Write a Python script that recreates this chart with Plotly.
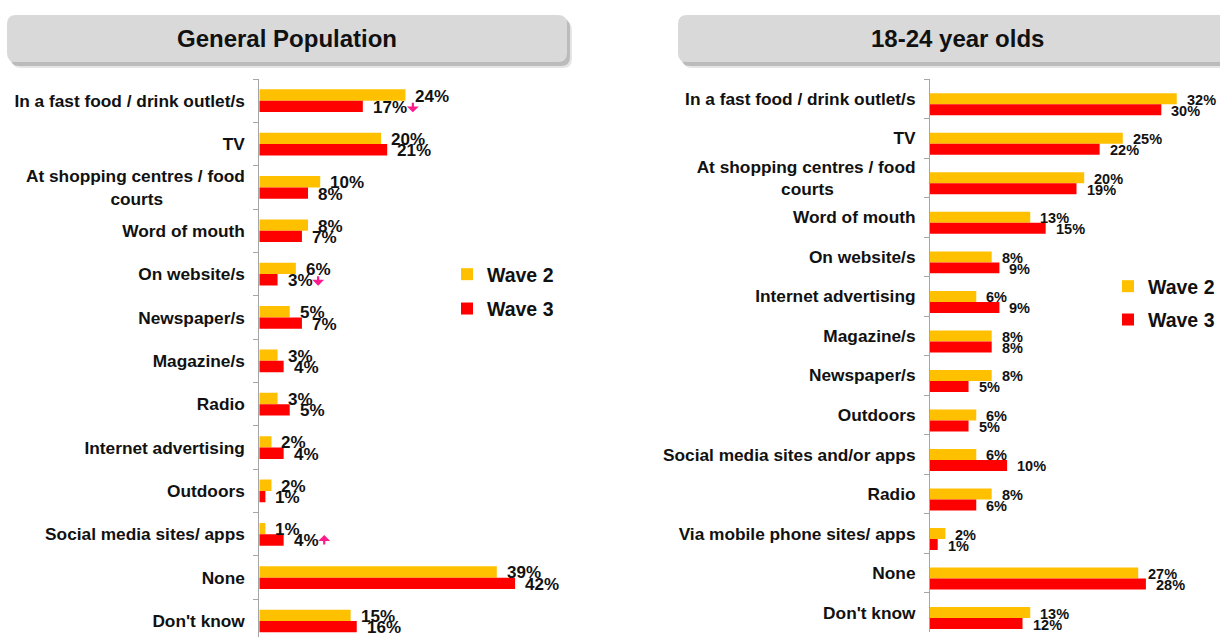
import plotly.graph_objects as go

# ---------------- data ----------------
series_names = ["Wave 2", "Wave 3"]
panel_titles = ["General Population", "18-24 year olds"]

gp_categories = [
    "In a fast food / drink outlet/s", "TV", "At shopping centres / food courts",
    "Word of mouth", "On website/s", "Newspaper/s", "Magazine/s", "Radio",
    "Internet advertising", "Outdoors", "Social media sites/ apps", "None", "Don't know",
]
gp_wave2 = [24, 20, 10, 8, 6, 5, 3, 3, 2, 2, 1, 39, 15]
gp_wave3 = [17, 21, 8, 7, 3, 7, 4, 5, 4, 1, 4, 42, 16]
gp_sig_wave3 = ["down", "", "", "", "down", "", "", "", "", "", "up", "", ""]

yo_categories = [
    "In a fast food / drink outlet/s", "TV", "At shopping centres / food courts",
    "Word of mouth", "On website/s", "Internet advertising", "Magazine/s",
    "Newspaper/s", "Outdoors", "Social media sites and/or apps", "Radio",
    "Via mobile phone sites/ apps", "None", "Don't know",
]
yo_wave2 = [32, 25, 20, 13, 8, 6, 8, 8, 6, 6, 8, 2, 27, 13]
yo_wave3 = [30, 22, 19, 15, 9, 9, 8, 5, 5, 10, 6, 1, 28, 12]

# ---------------- styling ----------------
W, H = 1220, 637
MT, MB = 79, 0
PH = H - MT - MB
FONT = "Liberation Sans, Arial, sans-serif"
C_W2 = "#FFC000"
C_W3 = "#FF0000"
C_SIG = "#FF1A8C"
AXIS_GREY = "#A6A6A6"


def px_x(x):
    return x / W


def px_y(y):
    return (H - MB - y) / PH


def display_label(name):
    # wrap the long label on two lines, second line visually centred
    if name == "At shopping centres / food courts":
        return "At shopping centres / food<br>courts" + "\u00a0" * 17
    return name


def text_width(s, size):
    # rough Arial-bold width of a percentage label
    return sum(0.889 if ch == "%" else 0.556 for ch in s) * size


fig = go.Figure()
annotations = []

panels = [
    dict(cats=gp_categories, w2=gp_wave2, w3=gp_wave3, sig=gp_sig_wave3,
         xa="x", ya="y", legend="legend", width=0.262, off2=-0.262, lab_size=17),
    dict(cats=yo_categories, w2=yo_wave2, w3=yo_wave3, sig=[""] * len(yo_categories),
         xa="x2", ya="y2", legend="legend2", width=0.278, off2=-0.138, lab_size=14.5),
]

for p in panels:
    labels = [display_label(c) for c in p["cats"]]
    offs = [p["off2"], p["off2"] + p["width"]]
    for k, (vals, col, name) in enumerate(zip([p["w2"], p["w3"]], [C_W2, C_W3], series_names)):
        fig.add_trace(go.Bar(
            x=vals, y=labels, orientation="h", name=name,
            marker=dict(color=col, line=dict(width=0)),
            width=p["width"], offset=offs[k],
            xaxis=p["xa"], yaxis=p["ya"], legend=p["legend"],
            legendgroup=p["legend"] + name, hoverinfo="skip",
        ))
        for i, v in enumerate(vals):
            txt = f"{v}%"
            yc = i + offs[k] + p["width"] / 2
            annotations.append(dict(
                x=v, y=yc, xref=p["xa"], yref=p["ya"],
                text=txt, showarrow=False, xanchor="left", yanchor="middle",
                xshift=8, yshift=-1,
                font=dict(family=FONT, size=p["lab_size"], color="#111111", weight="bold"),
            ))
            if k == 1 and p["sig"][i]:
                down = p["sig"][i] == "down"
                annotations.append(dict(
                    x=v, y=yc, xref=p["xa"], yref=p["ya"], text="",
                    showarrow=True, arrowhead=1, arrowsize=0.9, arrowwidth=2.2,
                    arrowcolor=C_SIG, ax=0, ay=-11 if down else 11,
                    axref="pixel", ayref="pixel", standoff=0, startstandoff=0,
                    xshift=8 + text_width(txt, p["lab_size"]) + 8,
                    yshift=-6 if down else 5,
                ))

# ---------------- header boxes ----------------
def rounded_path(x0, y0, x1, y1, r):
    pts = [
        ("M", (x0 + r, y0)), ("L", (x1 - r, y0)), ("Q", (x1, y0, x1, y0 + r)),
        ("L", (x1, y1 - r)), ("Q", (x1, y1, x1 - r, y1)), ("L", (x0 + r, y1)),
        ("Q", (x0, y1, x0, y1 - r)), ("L", (x0, y0 + r)), ("Q", (x0, y0, x0 + r, y0)),
    ]
    s = ""
    for cmd, c in pts:
        conv = []
        for j in range(0, len(c), 2):
            conv.append(f"{px_x(c[j]):.5f},{px_y(c[j + 1]):.5f}")
        s += cmd + " ".join(conv) + " "
    return s + "Z"


shapes = []
header_boxes = [(7, 15, 567, 62), (678, 15, 1236, 62)]
for (x0, y0, x1, y1), title in zip(header_boxes, panel_titles):
    shapes.append(dict(type="path", xref="paper", yref="paper",
                       path=rounded_path(x0 + 5, y0 + 6, x1 + 5, y1 + 6, 9),
                       fillcolor="rgba(0,0,0,0.10)", line=dict(width=0)))
    shapes.append(dict(type="path", xref="paper", yref="paper",
                       path=rounded_path(x0 + 3, y0 + 3, x1 + 3, y1 + 4, 9),
                       fillcolor="rgba(0,0,0,0.18)", line=dict(width=0)))
    shapes.append(dict(type="path", xref="paper", yref="paper",
                       path=rounded_path(x0, y0, x1, y1, 9),
                       fillcolor="#D9D9D9", line=dict(width=0)))
    annotations.append(dict(
        x=px_x((x0 + x1) / 2), y=px_y(39), xref="paper", yref="paper",
        text=title, showarrow=False, xanchor="center", yanchor="middle",
        font=dict(family=FONT, size=24, color="#111111", weight="bold"),
    ))

# ---------------- axes ----------------
yax_common = dict(
    type="category", tickson="boundaries", ticks="outside", ticklen=5,
    tickcolor=AXIS_GREY, tickwidth=1, showline=True, linecolor=AXIS_GREY, linewidth=1,
    showgrid=False, zeroline=False, ticklabelstandoff=10,
    tickfont=dict(family=FONT, size=17.3, color="#111111", weight="bold"),
    autorange=False,
)
xax_common = dict(showgrid=False, zeroline=False, showticklabels=False, ticks="",
                  showline=False, autorange=False)

band1 = 43.36
left_range_bottom = -0.5 + PH / band1

legend_font = dict(family=FONT, size=19.5, color="#111111", weight="bold")

fig.update_layout(
    width=W, height=H,
    margin=dict(l=0, r=0, t=MT, b=MB, pad=0),
    paper_bgcolor="white", plot_bgcolor="white",
    barmode="overlay",
    xaxis=dict(domain=[px_x(259.3), px_x(563.8)], range=[0, 50], anchor="y", **xax_common),
    yaxis=dict(domain=[0, 1], anchor="x",
               categoryorder="array", categoryarray=[display_label(c) for c in gp_categories],
               range=[left_range_bottom, -0.5], **yax_common),
    xaxis2=dict(domain=[px_x(930), px_x(1215.3)], range=[0, 37], anchor="y2", **xax_common),
    yaxis2=dict(domain=[px_y(632.3), 1], anchor="x2",
                categoryorder="array", categoryarray=[display_label(c) for c in yo_categories],
                range=[len(yo_categories) - 0.5, -0.5], **yax_common),
    legend=dict(x=px_x(447), y=px_y(255), xanchor="left", yanchor="top",
                font=legend_font, bgcolor="rgba(0,0,0,0)", itemwidth=30,
                tracegroupgap=6, traceorder="grouped"),
    legend2=dict(x=px_x(1108), y=px_y(267), xanchor="left", yanchor="top",
                 font=legend_font, bgcolor="rgba(0,0,0,0)", itemwidth=30,
                 tracegroupgap=5, traceorder="grouped"),
    showlegend=True,
    shapes=shapes,
    annotations=annotations,
)

fig.write_html("out.html")
